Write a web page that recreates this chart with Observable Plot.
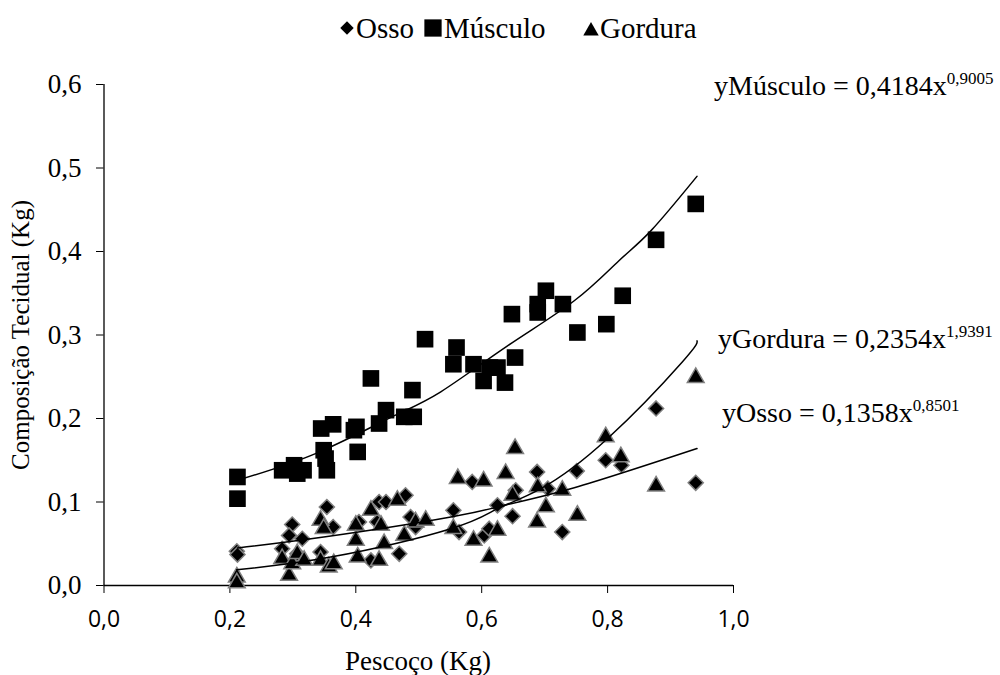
<!DOCTYPE html>
<html>
<head>
<meta charset="utf-8">
<script src="https://cdn.jsdelivr.net/npm/d3@7"></script>
<script src="https://cdn.jsdelivr.net/npm/@observablehq/plot@0.6"></script>
<style>
  html, body { margin: 0; padding: 0; background: #fff; }
  #chart { width: 1000px; height: 675px; }
</style>
</head>
<body>
<div id="chart"></div>
<script>
// ---- Data ----
const xTicks = [0, 0.2, 0.4, 0.6, 0.8, 1.0];
const yTicks = [0, 0.1, 0.2, 0.3, 0.4, 0.5, 0.6];

const seriesNames = ["Osso", "Músculo", "Gordura"];

const ossoX = [0.211, 0.212, 0.299, 0.294, 0.315, 0.283, 0.307, 0.354, 0.364, 0.344,
  0.437, 0.448, 0.479, 0.405, 0.434, 0.487, 0.495, 0.424, 0.469,
  0.585, 0.688, 0.751, 0.555, 0.625, 0.654, 0.649, 0.705, 0.564, 0.604, 0.612, 0.728,
  0.797, 0.822, 0.877, 0.940];
const ossoY = [0.041, 0.037, 0.073, 0.060, 0.056, 0.044, 0.038, 0.094, 0.070, 0.040,
  0.100, 0.100, 0.108, 0.076, 0.076, 0.082, 0.070, 0.030, 0.038,
  0.124, 0.136, 0.137, 0.090, 0.096, 0.114, 0.083, 0.116, 0.064, 0.060, 0.068, 0.064,
  0.150, 0.144, 0.212, 0.123];

const musculoX = [0.212, 0.212, 0.283, 0.302, 0.307, 0.317, 0.345, 0.364, 0.349, 0.352,
  0.354, 0.401, 0.403, 0.397, 0.424, 0.437, 0.448, 0.477, 0.492, 0.490,
  0.510, 0.560, 0.555, 0.587, 0.603, 0.613, 0.625, 0.637, 0.653, 0.648,
  0.689, 0.689, 0.702, 0.729, 0.752, 0.798, 0.824, 0.877, 0.940];
const musculoY = [0.130, 0.104, 0.138, 0.144, 0.134, 0.138, 0.188, 0.193, 0.162, 0.152,
  0.138, 0.190, 0.160, 0.186, 0.248, 0.194, 0.210, 0.202, 0.202, 0.234,
  0.295, 0.285, 0.265, 0.265, 0.245, 0.261, 0.261, 0.243, 0.273, 0.325,
  0.337, 0.327, 0.353, 0.337, 0.303, 0.313, 0.347, 0.414, 0.457];

const gorduraX = [0.211, 0.211, 0.294, 0.283, 0.299, 0.307, 0.318, 0.344, 0.349, 0.344,
  0.357, 0.365, 0.400, 0.400, 0.403, 0.424, 0.440, 0.437, 0.445, 0.466,
  0.477, 0.495, 0.511, 0.653, 0.562, 0.603, 0.638, 0.649, 0.689, 0.728,
  0.702, 0.688, 0.752, 0.555, 0.587, 0.625, 0.612, 0.797, 0.821, 0.877, 0.940];
const gorduraY = [0.010, 0.003, 0.012, 0.032, 0.026, 0.038, 0.030, 0.078, 0.068, 0.030,
  0.022, 0.026, 0.072, 0.054, 0.034, 0.090, 0.072, 0.030, 0.050, 0.102,
  0.060, 0.076, 0.078, 0.164, 0.128, 0.125, 0.134, 0.108, 0.118, 0.114,
  0.094, 0.076, 0.084, 0.068, 0.054, 0.066, 0.034, 0.178, 0.154, 0.119, 0.249];

// Trend curves, points
const trendMusculoX = [0.212, 0.336, 0.455, 0.535, 0.641, 0.747, 0.818, 0.869, 0.942];
const trendMusculoY = [0.126, 0.158, 0.201, 0.232, 0.287, 0.341, 0.389, 0.425, 0.490];
const trendGorduraX = [0.211, 0.360, 0.551, 0.625, 0.694, 0.800, 0.919, 0.942];
const trendGorduraY = [0.019, 0.034, 0.068, 0.092, 0.116, 0.176, 0.268, 0.293];
const trendOssoX = [0.212, 0.349, 0.551, 0.641, 0.747, 0.942];
const trendOssoY = [0.045, 0.058, 0.082, 0.097, 0.117, 0.164];

const equations = [
  {main: "yMúsculo = 0,4184x", exp: "0,9005"},
  {main: "yGordura = 0,2354x", exp: "1,9391"},
  {main: "yOsso = 0,1358x", exp: "0,8501"}
];

const xLabel = "Pescoço (Kg)";
const yLabel = "Composição Tecidual (Kg)";

// ---- Build tables ----
const toRows = (xs, ys) => xs.map((x, i) => ({x, y: ys[i]}));
const osso = toRows(ossoX, ossoY);
const musculo = toRows(musculoX, musculoY);
const gordura = toRows(gorduraX, gorduraY);
const tM = toRows(trendMusculoX, trendMusculoY);
const tG = toRows(trendGorduraX, trendGorduraY);
const tO = toRows(trendOssoX, trendOssoY);

const fmt = d => d.toFixed(1).replace(".", ",");
const serif = "'Liberation Serif', 'Times New Roman', serif";
const sans = "'Open Sans', 'Liberation Sans', sans-serif";
const gray = "#808080";

const chart = Plot.plot({
  width: 1000,
  height: 675,
  marginLeft: 103.5,
  marginRight: 267,
  marginTop: 84,
  marginBottom: 90,
  style: {fontFamily: serif, fontSize: "27px", background: "#fff", color: "#000"},
  x: {domain: [0, 1], axis: null},
  y: {domain: [0, 0.6], axis: null},
  marks: [
    Plot.axisY({ticks: yTicks, tickFormat: fmt, tickSize: 7.5, tickPadding: 15, fontSize: 27, fontFamily: serif, label: null}),
    Plot.axisX({ticks: xTicks, tickFormat: fmt, tickSize: 8, tickPadding: 17, fontSize: 23, fontFamily: sans, label: null}),
    Plot.ruleY([0], {stroke: "#000", strokeWidth: 1.3}),
    Plot.ruleX([0], {stroke: "#000", strokeWidth: 1.3}),
    Plot.dot(osso, {x: "x", y: "y", symbol: "diamond2", r: 6.8, fill: "#000", stroke: gray, strokeWidth: 1.5}),
    Plot.dot(musculo, {x: "x", y: "y", symbol: "square2", r: 10.6, fill: "#000", stroke: "none"}),
    Plot.dot(gordura, {x: "x", y: "y", symbol: "triangle2", r: 8, fill: "#000", stroke: gray, strokeWidth: 1.5}),
    Plot.line(tO, {x: "x", y: "y", curve: "natural", stroke: "#000", strokeWidth: 1.5}),
    Plot.line(tM, {x: "x", y: "y", curve: "natural", stroke: "#000", strokeWidth: 1.5}),
    Plot.line(tG, {x: "x", y: "y", curve: "natural", stroke: "#000", strokeWidth: 1.5})
  ]
});

const svg = d3.select(chart);

// Legend
const legendItems = [
  {name: seriesNames[0], sym: d3.symbolDiamond2, size: 115, sx: 347, sy: 28, tx: 356},
  {name: seriesNames[1], sym: d3.symbolSquare2, size: 380, sx: 433, sy: 28, tx: 444},
  {name: seriesNames[2], sym: d3.symbolTriangle2, size: 170, sx: 591, sy: 31, tx: 600}
];
const lg = svg.append("g").attr("class", "legend");
legendItems.forEach(it => {
  lg.append("path")
    .attr("d", d3.symbol(it.sym, it.size)())
    .attr("transform", `translate(${it.sx},${it.sy})`)
    .attr("fill", "#000");
  lg.append("text")
    .attr("x", it.tx).attr("y", 38)
    .attr("text-anchor", "start")
    .attr("font-family", serif).attr("font-size", 29)
    .attr("fill", "#000")
    .text(it.name);
});

// Equations
const eqPos = [{x: 714, y: 95}, {x: 718, y: 348}, {x: 722, y: 422}];
equations.forEach((e, i) => {
  const t = svg.append("text")
    .attr("x", eqPos[i].x).attr("y", eqPos[i].y)
    .attr("text-anchor", "start")
    .attr("font-family", serif).attr("font-size", 28).attr("fill", "#000");
  t.append("tspan").text(e.main);
  t.append("tspan").attr("dy", -11).attr("font-size", 17).text(e.exp);
});

// Axis titles
svg.append("text")
  .attr("x", 418).attr("y", 670)
  .attr("text-anchor", "middle")
  .attr("font-family", serif).attr("font-size", 27).attr("fill", "#000")
  .text(xLabel);
svg.append("text")
  .attr("transform", "translate(29,335) rotate(-90)")
  .attr("text-anchor", "middle")
  .attr("font-family", serif).attr("font-size", 25).attr("fill", "#000")
  .text(yLabel);

document.getElementById("chart").appendChild(chart);
</script>
</body>
</html>
